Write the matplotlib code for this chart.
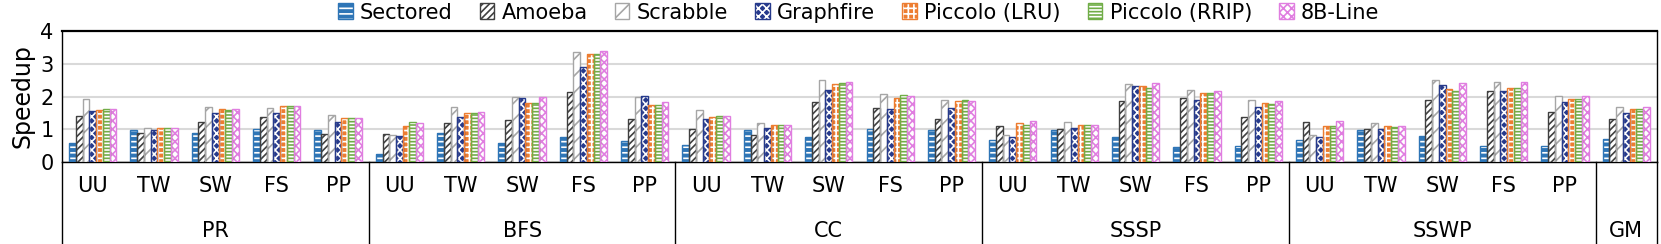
import numpy as np
import matplotlib.pyplot as plt
from matplotlib.legend_handler import HandlerTuple

plt.rcParams['font.family'] = ['DejaVu Sans']
plt.rcParams['hatch.linewidth'] = 1.2

benchmarks = ['PR', 'BFS', 'CC', 'SSSP', 'SSWP']
graphs = ['UU', 'TW', 'SW', 'FS', 'PP']
schemes = ['Sectored', 'Amoeba', 'Scrabble', 'Graphfire',
           'Piccolo (LRU)', 'Piccolo (RRIP)', '8B-Line']

# order: PR(UU TW SW FS PP), BFS, CC, SSSP, SSWP, GM
sectored = [0.58, 0.98, 0.89, 1.00, 0.99,
            0.25, 0.90, 0.58, 0.77, 0.63,
            0.51, 0.98, 0.75, 1.00, 0.99,
            0.67, 0.99, 0.75, 0.46, 0.50,
            0.67, 0.99, 0.78, 0.48, 0.50,
            0.71]
amoeba = [1.42, 0.90, 1.21, 1.38, 0.87,
          0.86, 1.19, 1.28, 2.13, 1.30,
          1.02, 0.84, 1.83, 1.65, 1.31,
          1.11, 1.00, 1.86, 1.95, 1.38,
          1.21, 1.00, 1.90, 2.18, 1.52,
          1.32]
scrabble = [1.92, 1.05, 1.67, 1.65, 1.44,
            0.83, 1.67, 1.98, 3.37, 1.99,
            1.59, 1.18, 2.49, 2.07, 1.90,
            0.81, 1.22, 2.38, 2.20, 1.89,
            0.83, 1.18, 2.49, 2.44, 2.03,
            1.67]
graphfire = [1.55, 0.98, 1.50, 1.50, 1.21,
             0.79, 1.37, 1.95, 2.90, 2.02,
             1.32, 1.05, 2.21, 1.63, 1.64,
             0.76, 1.04, 2.33, 1.88, 1.68,
             0.77, 1.02, 2.35, 2.16, 1.83,
             1.49]
piccolo_lru = [1.59, 1.05, 1.61, 1.70, 1.34,
               1.11, 1.50, 1.81, 3.30, 1.74,
               1.36, 1.13, 2.39, 1.95, 1.85,
               1.18, 1.12, 2.31, 2.11, 1.80,
               1.11, 1.09, 2.22, 2.26, 1.93,
               1.63]
piccolo_rrip = [1.61, 1.05, 1.59, 1.70, 1.34,
                1.21, 1.49, 1.79, 3.30, 1.73,
                1.39, 1.13, 2.40, 2.04, 1.90,
                1.13, 1.12, 2.26, 2.10, 1.77,
                1.11, 1.08, 2.18, 2.26, 1.91,
                1.63]
line8b = [1.63, 1.05, 1.62, 1.72, 1.34,
          1.20, 1.53, 1.98, 3.39, 1.82,
          1.39, 1.13, 2.43, 2.01, 1.86,
          1.25, 1.12, 2.41, 2.17, 1.87,
          1.25, 1.11, 2.41, 2.44, 2.03,
          1.69]

series = [sectored, amoeba, scrabble, graphfire, piccolo_lru, piccolo_rrip, line8b]
colors = ['#2E75B6', '#404040', '#A6A6A6', '#263A8C', '#ED7D31', '#70AD47', '#E07EE0']
# (face, hatch colour, hatch)
styles = [('#2E75B6', 'white', '---'),
          ('white', '#404040', '/////'),
          ('white', '#A6A6A6', '//'),
          ('#263A8C', 'white', 'xxxx'),
          ('#ED7D31', 'white', '+++'),
          ('white', '#70AD47', '-----'),
          ('white', '#E07EE0', 'xxxx')]

sub_labels = [g for b in benchmarks for g in graphs] + ['']
n = len(sub_labels)
x = np.arange(n)
width = 0.11

fig = plt.figure(figsize=(16.61, 2.44), dpi=100)
ax = fig.add_axes([0.0373, 0.336, 0.9603, 0.537])

handles = []
for i, (vals, col, (face, hcol, hatch), name) in enumerate(zip(series, colors, styles, schemes)):
    pos = x + (i - 3) * width
    fill = ax.bar(pos, vals, width, color=face, edgecolor=hcol, hatch=hatch,
                  linewidth=0, zorder=3)
    edge = ax.bar(pos, vals, width, facecolor='none', edgecolor=col,
                  linewidth=1.0, zorder=4)
    handles.append((fill[0], edge[0]))

ax.set_xlim(-0.5, n - 0.5)
ax.set_ylim(0, 4)
ax.set_yticks([0, 1, 2, 3, 4])
ax.tick_params(axis='y', length=0, labelsize=15, pad=6)
ax.set_ylabel('Speedup', fontsize=17, labelpad=4)
ax.yaxis.grid(True, color='#D9D9D9', linewidth=1.5, zorder=0)
ax.set_axisbelow(True)
for s in ax.spines.values():
    s.set_color('black')
    s.set_linewidth(1.0)
ax.spines['top'].set_linewidth(1.6)

ax.set_xticks(x)
ax.set_xticklabels(sub_labels, fontsize=15)
ax.tick_params(axis='x', length=0, pad=10)

trans = ax.get_xaxis_transform()
bottom = -0.626
bounds = [-0.5] + [5 * k + 4.5 for k in range(5)] + [n - 0.5]
for b in bounds:
    ax.plot([b, b], [0, bottom], color='black', linewidth=1.0,
            transform=trans, clip_on=False)
group_names = benchmarks + ['GM']
for k, name in enumerate(group_names):
    ax.text((bounds[k] + bounds[k + 1]) / 2, -0.527, name, transform=trans,
            ha='center', va='center', fontsize=15)

fig.legend(handles, schemes, loc='center', bbox_to_anchor=(0.517, 0.948),
           ncol=7, frameon=False, fontsize=15, handlelength=0.7, handleheight=0.8,
           handletextpad=0.35, columnspacing=1.3, borderaxespad=0,
           handler_map={tuple: HandlerTuple(ndivide=1)})

fig.savefig('out.png', dpi=100)
